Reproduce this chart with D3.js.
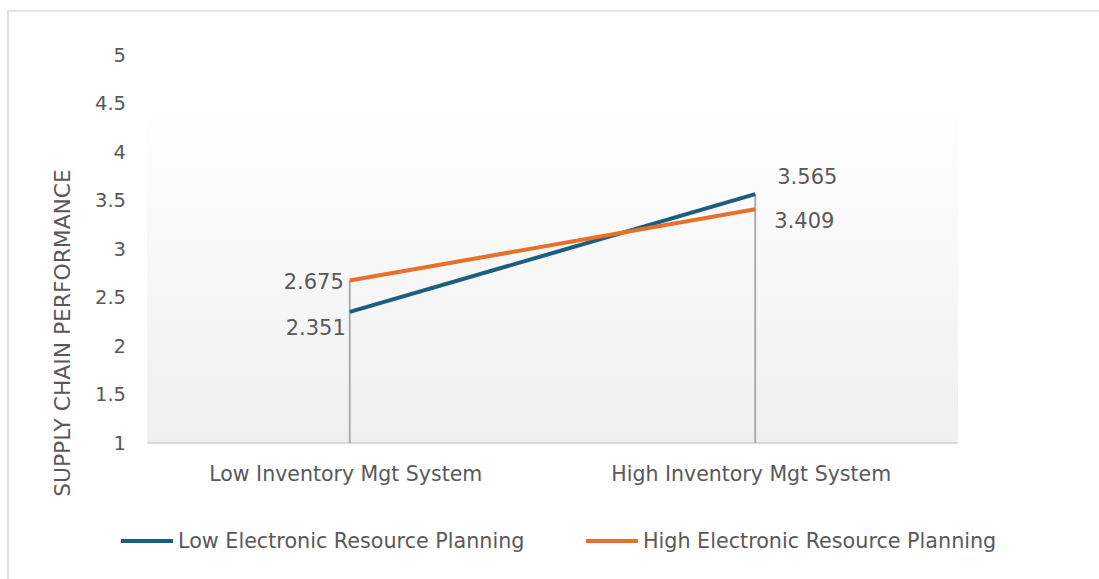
<!DOCTYPE html>
<html>
<head>
<meta charset="utf-8">
<script src="https://cdn.jsdelivr.net/npm/d3@7"></script>
<style>
  body { margin: 0; background: #fff; }
  svg { display: block; font-family: "DejaVu Sans", sans-serif; }
</style>
</head>
<body>
<div id="chart"></div>
<script>
const categories = ['Low Inventory Mgt System', 'High Inventory Mgt System'];
const seriesNames = ['Low Electronic Resource Planning', 'High Electronic Resource Planning'];
const lowErp = [2.351, 3.565];
const highErp = [2.675, 3.409];
const yTicks = [1, 1.5, 2, 2.5, 3, 3.5, 4, 4.5, 5];
const colors = ['#1b5e7e', '#e8702a'];

const width = 1099, height = 579;
const margin = { top: 55, right: 141, bottom: 136, left: 147 };

const svg = d3.select('#chart').append('svg')
    .attr('width', width)
    .attr('height', height);

// outer frame (right/bottom edges fall outside the window)
svg.append('rect')
    .attr('x', 8).attr('y', 11)
    .attr('width', width + 20).attr('height', height + 20)
    .attr('fill', 'none')
    .attr('stroke', '#d9d9d9')
    .attr('stroke-width', 1.5);

const x = d3.scaleBand()
    .domain(categories)
    .range([margin.left, width - margin.right]);

const y = d3.scaleLinear()
    .domain([1, 5])
    .range([height - margin.bottom, margin.top]);

// plot area gradient
const defs = svg.append('defs');
const grad = defs.append('linearGradient')
    .attr('id', 'plotBg')
    .attr('x1', 0).attr('y1', 0).attr('x2', 0).attr('y2', 1);
grad.append('stop').attr('offset', '0%').attr('stop-color', '#ffffff');
grad.append('stop').attr('offset', '100%').attr('stop-color', '#efefef');

svg.append('rect')
    .attr('x', margin.left)
    .attr('y', y(4.535))
    .attr('width', width - margin.right - margin.left)
    .attr('height', y(1) - y(4.535))
    .attr('fill', 'url(#plotBg)');

// y tick labels
svg.append('g')
    .selectAll('text')
    .data(yTicks)
    .join('text')
    .attr('x', 126)
    .attr('y', d => y(d))
    .attr('dy', '0.35em')
    .attr('text-anchor', 'end')
    .attr('font-size', 19.5)
    .attr('fill', '#595959')
    .text(d => d);

// axis title
svg.append('text')
    .attr('transform', `translate(70,${(y(1) + y(5)) / 2 + 84}) rotate(-90)`)
    .attr('text-anchor', 'middle')
    .attr('font-size', 21.8)
    .attr('fill', '#595959')
    .text('SUPPLY CHAIN PERFORMANCE');

// x axis line
svg.append('line')
    .attr('x1', margin.left).attr('x2', width - margin.right)
    .attr('y1', y(1)).attr('y2', y(1))
    .attr('stroke', '#d9d9d9')
    .attr('stroke-width', 2);

// category labels
svg.append('g')
    .selectAll('text')
    .data(categories)
    .join('text')
    .attr('x', d => x(d) + x.bandwidth() / 2 - 4)
    .attr('y', y(1) + 38)
    .attr('text-anchor', 'middle')
    .attr('font-size', 20.5)
    .attr('fill', '#595959')
    .text(d => d);

const cx = d => x(d) + x.bandwidth() / 2;

// drop lines
const maxVals = categories.map((c, i) => Math.max(lowErp[i], highErp[i]));
svg.append('g')
    .selectAll('line')
    .data(categories)
    .join('line')
    .attr('x1', d => cx(d)).attr('x2', d => cx(d))
    .attr('y1', (d, i) => y(maxVals[i]))
    .attr('y2', y(1))
    .attr('stroke', '#a6a6a6')
    .attr('stroke-width', 1.8);

const line = d3.line()
    .x((d, i) => cx(categories[i]))
    .y(d => y(d));

[lowErp, highErp].forEach((vals, s) => {
    svg.append('path')
        .datum(vals)
        .attr('d', line)
        .attr('fill', 'none')
        .attr('stroke', colors[s])
        .attr('stroke-width', 4);
});

// data labels
const labelPos = [
    [{ dx: -4, dy: 16, anchor: 'end' }, { dx: 22, dy: -18, anchor: 'start' }],
    [{ dx: -6, dy: 1, anchor: 'end' }, { dx: 19, dy: 11, anchor: 'start' }]
];
[lowErp, highErp].forEach((vals, s) => {
    svg.append('g')
        .selectAll('text')
        .data(vals)
        .join('text')
        .attr('x', (d, i) => cx(categories[i]) + labelPos[s][i].dx)
        .attr('y', (d, i) => y(d) + labelPos[s][i].dy)
        .attr('dy', '0.35em')
        .attr('text-anchor', (d, i) => labelPos[s][i].anchor)
        .attr('font-size', 21)
        .attr('fill', '#595959')
        .text(d => d.toFixed(3));
});

// legend
const legendX = [121, 586];
const legend = svg.append('g')
    .selectAll('g')
    .data(seriesNames)
    .join('g')
    .attr('transform', (d, i) => `translate(${legendX[i]},541)`);
legend.append('line')
    .attr('x1', 0).attr('x2', 52)
    .attr('stroke', (d, i) => colors[i])
    .attr('stroke-width', 4);
legend.append('text')
    .attr('x', 57)
    .attr('dy', '0.35em')
    .attr('font-size', 20.7)
    .attr('fill', '#595959')
    .text(d => d);
</script>
</body>
</html>
